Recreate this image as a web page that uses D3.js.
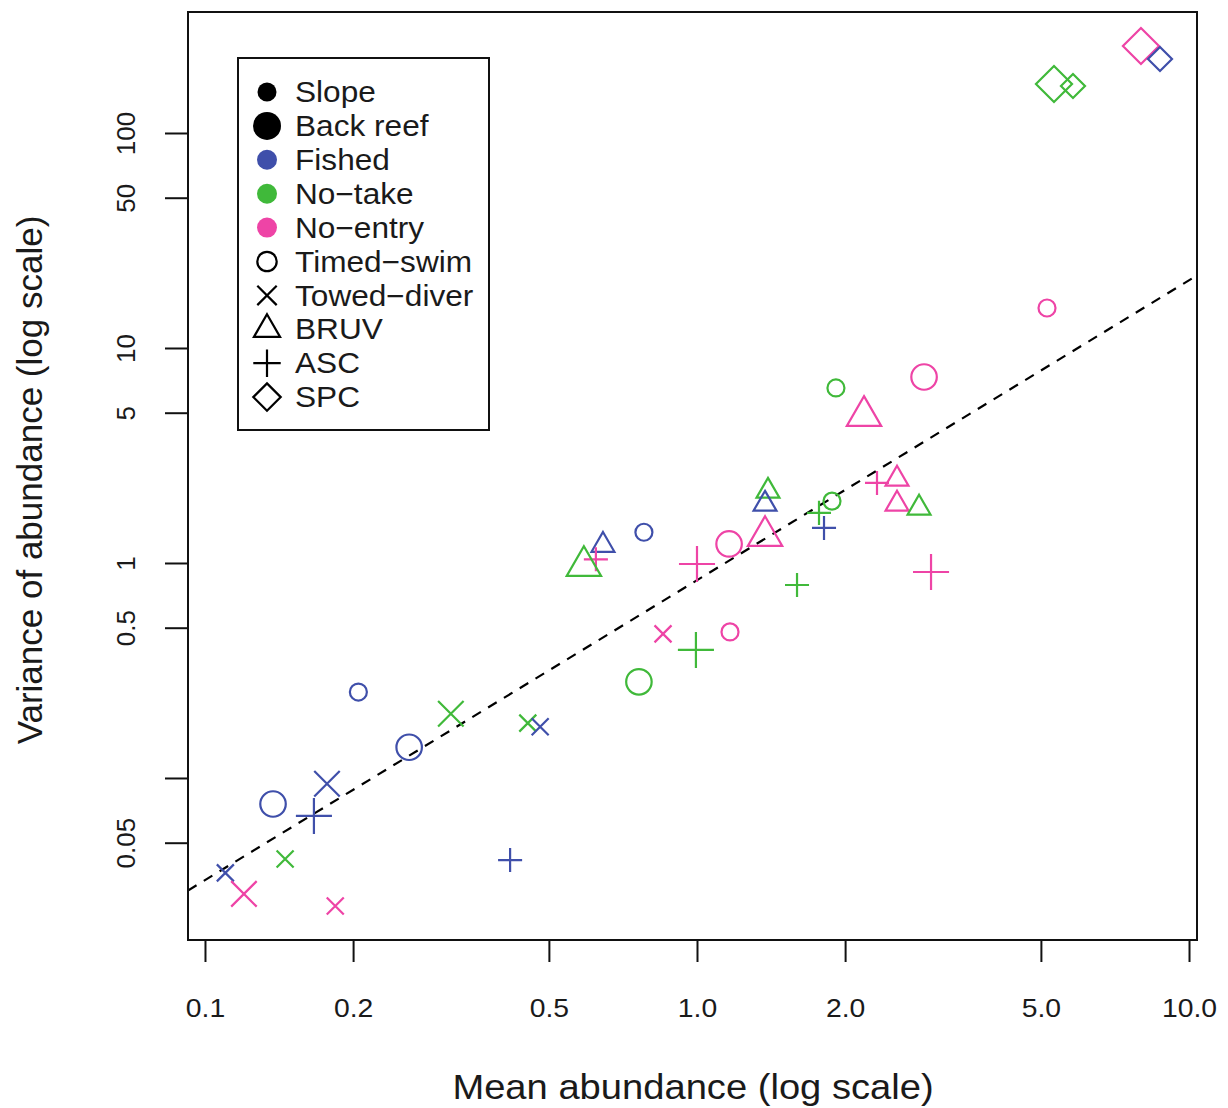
<!DOCTYPE html>
<html>
<head>
<meta charset="utf-8">
<script src="https://cdn.jsdelivr.net/npm/d3@7"></script>
<style>
  body { margin: 0; background: #fff; }
  text { font-family: "Liberation Sans", Arial, Helvetica, sans-serif; fill: #1a1a1a; }
</style>
</head>
<body>
<svg id="chart" width="1228" height="1108"></svg>
<script>
// ---- data: one entry per survey (zone, habitat, method, mean, variance) ----
const zone = [
  "Fished","No-take","No-take","Fished","Fished","Fished","Fished","Fished","No-take","Fished",
  "No-entry","No-entry","Fished","Fished","No-entry","No-take","Fished","No-entry","No-entry","No-entry",
  "No-take","Fished","No-take","No-take","Fished","No-take","No-entry","No-entry","No-take","No-entry",
  "No-take","No-entry","No-entry","No-take","No-entry","No-entry","No-entry","No-entry","No-take","No-take",
  "No-take","No-entry","Fished"
];
const habitat = [
  "Slope","Back reef","Slope","Slope","Back reef","Back reef","Back reef","Back reef","Slope","Slope",
  "Back reef","Slope","Slope","Slope","Slope","Back reef","Slope","Back reef","Back reef","Back reef",
  "Slope","Slope","Slope","Slope","Slope","Slope","Back reef","Slope","Back reef","Slope",
  "Back reef","Slope","Back reef","Slope","Back reef","Slope","Slope","Slope","Slope","Back reef",
  "Slope","Back reef","Slope"
];
const method = [
  "Timed-swim","Towed-diver","Towed-diver","Towed-diver","Timed-swim","Towed-diver","Timed-swim","ASC","Towed-diver","Towed-diver",
  "Towed-diver","Towed-diver","ASC","BRUV","ASC","BRUV","Timed-swim","ASC","Timed-swim","BRUV",
  "BRUV","BRUV","Timed-swim","ASC","ASC","ASC","ASC","Towed-diver","ASC","Timed-swim",
  "Timed-swim","Timed-swim","Timed-swim","Timed-swim","BRUV","ASC","BRUV","BRUV","BRUV","SPC",
  "SPC","SPC","SPC"
];
const meanAbundance = [
  0.205, 0.316, 0.453, 0.480, 0.260, 0.177, 0.1375, 0.1665, 0.1455, 0.110,
  0.120, 0.184, 0.417, 0.644, 0.623, 0.589, 0.780, 1.00, 1.162, 1.375,
  1.394, 1.375, 1.881, 1.770, 1.812, 1.597, 2.99, 0.853, 0.995, 1.167,
  0.762, 5.145, 2.894, 1.916, 2.185, 2.322, 2.550, 2.550, 2.827, 5.316,
  5.810, 7.986, 8.730
];
const varAbundance = [
  0.251, 0.199, 0.180, 0.173, 0.139, 0.094, 0.0757, 0.0666, 0.0420, 0.0362,
  0.0289, 0.0254, 0.0415, 1.21, 1.04, 0.968, 1.39, 0.989, 1.226, 1.335,
  2.16, 1.88, 1.94, 1.71, 1.455, 0.790, 0.908, 0.468, 0.394, 0.478,
  0.280, 15.35, 7.33, 6.52, 4.83, 2.356, 2.459, 1.881, 1.803, 169.0,
  165.4, 253.9, 220.9
];

// fitted power law: log10(var) = fitA + fitB * log10(mean)
const fitA = -0.08;
const fitB = 1.395;

const zoneNames = ["Fished", "No-take", "No-entry"];
const zoneColors = ["#3F4FAA", "#40B93A", "#EE44A6"];
const habitatNames = ["Slope", "Back reef"];
const methodNames = ["Timed-swim", "Towed-diver", "BRUV", "ASC", "SPC"];

const xTicks = [0.1, 0.2, 0.5, 1, 2, 5, 10];
const xTickLabels = ["0.1", "0.2", "0.5", "1.0", "2.0", "5.0", "10.0"];
const yTicks = [0.05, 0.1, 0.5, 1, 5, 10, 50, 100];
const yTickLabels = ["0.05", "", "0.5", "1", "5", "10", "50", "100"];

// ---- layout ----
const svg = d3.select("#chart");
const plot = { left: 188, right: 1197, top: 12, bottom: 940 };
const wide = 1.09;   // horizontal stretch applied to horizontal text

const x = d3.scaleLog().domain([0.09236, 10.381]).range([plot.left, plot.right]);
const y = d3.scaleLog().domain([0.017637, 365.4]).range([plot.bottom, plot.top]);

const colorOf = d3.scaleOrdinal().domain(zoneNames).range(zoneColors);
const sizeOf = d3.scaleOrdinal().domain(habitatNames).range([8.5, 12.75]);

// R-style plotting symbols, centred on (0,0) with radius r
function symbolPath(m, r) {
  const s2 = Math.SQRT2 * r;
  switch (m) {
    case "Towed-diver":
      return `M${-r},${-r}L${r},${r}M${-r},${r}L${r},${-r}`;
    case "BRUV": {
      const top = 1.5551 * r, base = 0.7776 * r, hw = 1.3468 * r;
      return `M0,${-top}L${hw},${base}L${-hw},${base}Z`;
    }
    case "ASC":
      return `M${-s2},0L${s2},0M0,${-s2}L0,${s2}`;
    case "SPC":
      return `M0,${-s2}L${s2},0L0,${s2}L${-s2},0Z`;
    default:
      return null;
  }
}

function drawSymbol(g, m, r, color, filled) {
  if (m === "Timed-swim" || filled) {
    g.append("circle").attr("r", r)
      .attr("fill", filled ? color : "none")
      .attr("stroke", filled ? "none" : color)
      .attr("stroke-width", 2.2);
  } else {
    g.append("path").attr("d", symbolPath(m, r))
      .attr("fill", "none").attr("stroke", color)
      .attr("stroke-width", 2.2).attr("stroke-linejoin", "miter");
  }
}

// ---- axes ----
const xAxis = svg.append("g")
  .attr("transform", `translate(0,${plot.bottom})`)
  .call(d3.axisBottom(x).tickValues(xTicks).tickSize(22)
        .tickFormat((d, i) => xTickLabels[i]));
xAxis.select(".domain").remove();
xAxis.selectAll(".tick line").attr("stroke", "#111").attr("stroke-width", 2);
xAxis.selectAll(".tick text")
  .attr("y", null).attr("dy", null)
  .attr("transform", `translate(0,77) scale(${wide},1)`)
  .style("font-size", "26px").attr("fill", "#1a1a1a");

const yAxis = svg.append("g")
  .attr("transform", `translate(${plot.left},0)`)
  .call(d3.axisLeft(y).tickValues(yTicks).tickSize(23)
        .tickFormat((d, i) => yTickLabels[i]));
yAxis.select(".domain").remove();
yAxis.selectAll(".tick line").attr("stroke", "#111").attr("stroke-width", 2);
yAxis.selectAll(".tick text")
  .attr("transform", "rotate(-90)")
  .attr("x", 0).attr("y", -53).attr("dy", null)
  .attr("text-anchor", "middle")
  .style("font-size", "26px").attr("fill", "#1a1a1a");

// axis titles
svg.append("text")
  .attr("transform", `translate(693,1099) scale(${wide},1)`)
  .attr("text-anchor", "middle")
  .style("font-size", "35px")
  .text("Mean abundance (log scale)");
svg.append("text")
  .attr("transform", "translate(42,480) rotate(-90)")
  .attr("text-anchor", "middle")
  .style("font-size", "35px")
  .text("Variance of abundance (log scale)");

// ---- plot area ----
svg.append("clipPath").attr("id", "plotClip")
  .append("rect")
  .attr("x", plot.left).attr("y", plot.top)
  .attr("width", plot.right - plot.left).attr("height", plot.bottom - plot.top);

// fitted line across the full x range
const fitLine = d3.line().x(d => x(d)).y(d => y(Math.pow(10, fitA + fitB * Math.log10(d))));
svg.append("path")
  .attr("clip-path", "url(#plotClip)")
  .attr("d", fitLine(x.domain()))
  .attr("fill", "none").attr("stroke", "#000")
  .attr("stroke-width", 2.2).attr("stroke-dasharray", "10,8.5");

// points
const points = svg.append("g").attr("clip-path", "url(#plotClip)");
meanAbundance.forEach((mv, i) => {
  const g = points.append("g")
    .attr("transform", `translate(${x(mv)},${y(varAbundance[i])})`);
  drawSymbol(g, method[i], sizeOf(habitat[i]), colorOf(zone[i]), false);
});

// frame
svg.append("rect")
  .attr("x", plot.left).attr("y", plot.top)
  .attr("width", plot.right - plot.left).attr("height", plot.bottom - plot.top)
  .attr("fill", "none").attr("stroke", "#111").attr("stroke-width", 2);

// ---- legend ----
const legend = svg.append("g");
legend.append("rect")
  .attr("x", 238).attr("y", 58).attr("width", 251).attr("height", 372)
  .attr("fill", "#fff").attr("stroke", "#111").attr("stroke-width", 2);

const legendItems = [
  { label: habitatNames[0], draw: g => drawSymbol(g, null, 9.5, "#000", true) },
  { label: habitatNames[1], draw: g => drawSymbol(g, null, 14, "#000", true) },
  ...zoneNames.map((z, k) => ({ label: z.replace("-", "\u2212"),
                                draw: g => drawSymbol(g, null, 10, zoneColors[k], true) })),
  ...methodNames.map(m => ({ label: m.replace("-", "\u2212"),
                             draw: g => drawSymbol(g, m, 9.7, "#000", false) }))
];
legendItems.forEach((item, i) => {
  const cy = 92 + i * 33.9;
  const g = legend.append("g").attr("transform", `translate(267,${cy})`);
  item.draw(g);
  legend.append("text")
    .attr("transform", `translate(295,${cy}) scale(${wide},1)`)
    .attr("dy", "0.35em")
    .style("font-size", "29px")
    .text(item.label);
});
</script>
</body>
</html>
